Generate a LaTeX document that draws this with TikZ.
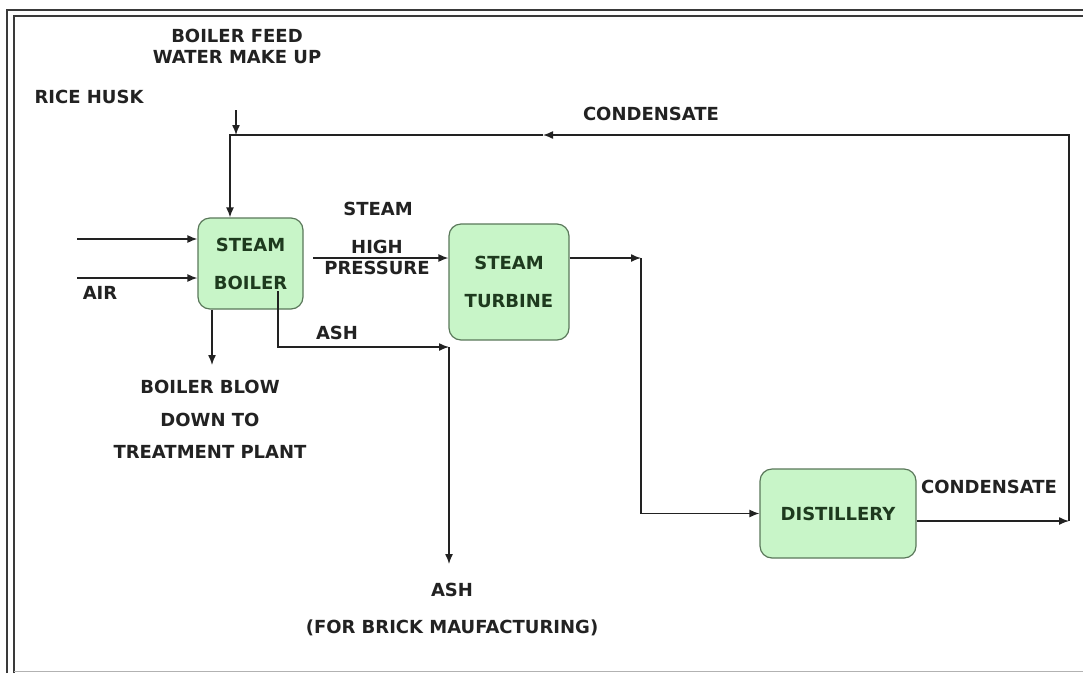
\documentclass[tikz,border=0pt]{standalone}
\usepackage{fontspec}
\setmainfont{DejaVu Sans}
\usetikzlibrary{arrows.meta}
\definecolor{boxfill}{HTML}{C8F5C8}
\definecolor{boxdraw}{HTML}{5A785A}
\definecolor{boxtext}{HTML}{1E3A1E}
\definecolor{ink}{HTML}{222222}
\definecolor{frame}{HTML}{3A3A3A}
\begin{document}
\begin{tikzpicture}[x=1pt,y=-1pt,
  proc/.style={draw=boxdraw, line width=1.2pt, fill=boxfill, rounded corners=12pt,
    inner sep=0pt, align=center, text=boxtext, font=\bfseries\fontsize{18}{38}\selectfont},
  lbl/.style={inner sep=0pt, align=center, text=ink, font=\bfseries\fontsize{18}{21}\selectfont},
  flow/.style={draw=ink, line width=1.4pt},
  arr/.style={flow, -{Latex[length=10pt,width=8pt]}}]
\useasboundingbox (0,0) rectangle (1083,673);
\fill[white] (0,0) rectangle (1083,673);
% frame
\draw[frame, line width=1.8pt] (7,673) -- (7,10) -- (1083,10);
\draw[frame, line width=1.8pt] (14,673) -- (14,16) -- (1083,16);
\draw[gray!60, line width=1.5pt] (14,671.5) -- (1083,671.5);
% process boxes
\node[proc, minimum width=105, minimum height=91] (boiler) at (250.5,263.5) {STEAM\\BOILER};
\node[proc, minimum width=120, minimum height=116] (turbine) at (509,282) {STEAM\\TURBINE};
\node[proc, minimum width=156, minimum height=89] (dist) at (838,513.5) {DISTILLERY};
% labels
\node[lbl] (feed) at (237,46) {BOILER FEED\\WATER MAKE UP};
\node[lbl] (husk) at (89,97) {RICE HUSK};
\node[lbl] (air) at (100,293) {AIR};
\node[lbl] (steam) at (378,209) {STEAM};
\node[lbl] (hp) at (377,257.5) {HIGH\\PRESSURE};
\node[lbl] (ash1) at (337,333) {ASH};
\node[lbl, font=\bfseries\fontsize{18}{32.5}\selectfont] (blow) at (210,419.5) {BOILER BLOW\\DOWN TO\\TREATMENT PLANT};
\node[lbl] (cond1) at (651,114) {CONDENSATE};
\node[lbl] (cond2) at (989,487) {CONDENSATE};
\node[lbl] (ash2) at (452,590) {ASH};
\node[lbl] (brick) at (452,628) {(FOR BRICK MAUFACTURING)};
% coordinates
\coordinate (inA) at (77,239);
\coordinate (inB) at (77,278);
\coordinate (mk) at (236,110);
\coordinate (mkend) at (236,135);
\coordinate (cR) at (1069,135);
\coordinate (cM) at (543,135);
\coordinate (cL) at (230,135);
\coordinate (dR) at (1069,521);
\coordinate (hpS) at (313,258);
\coordinate (tC) at (641,258);
\coordinate (aS) at (278,291);
\coordinate (aK) at (278,347);
\coordinate (aC) at (449,347);
\coordinate (aE) at (449,564);
\coordinate (bd) at (212,365);
% connectors
\draw[arr] (inA) -- (inA -| boiler.west);
\draw[arr] (inB) -- (inB -| boiler.west);
\draw[arr] (mk) -- (mkend);
\draw[arr] (dist.east |- dR) -- (dR);
\draw[arr] (dR) -- (cR) -- (cM);
\draw[arr] (cM) -- (cL) -- (cL |- boiler.north);
\draw[arr] (hpS) -- (hpS -| turbine.west);
\draw[arr] (turbine.east |- tC) -- (tC);
\draw[arr] (tC) |- (dist.west);
\draw[arr] (aS) -- (aK) -- (aC);
\draw[arr] (aC) -- (aE);
\draw[arr] (bd |- boiler.south) -- (bd);
\end{tikzpicture}
\end{document}
